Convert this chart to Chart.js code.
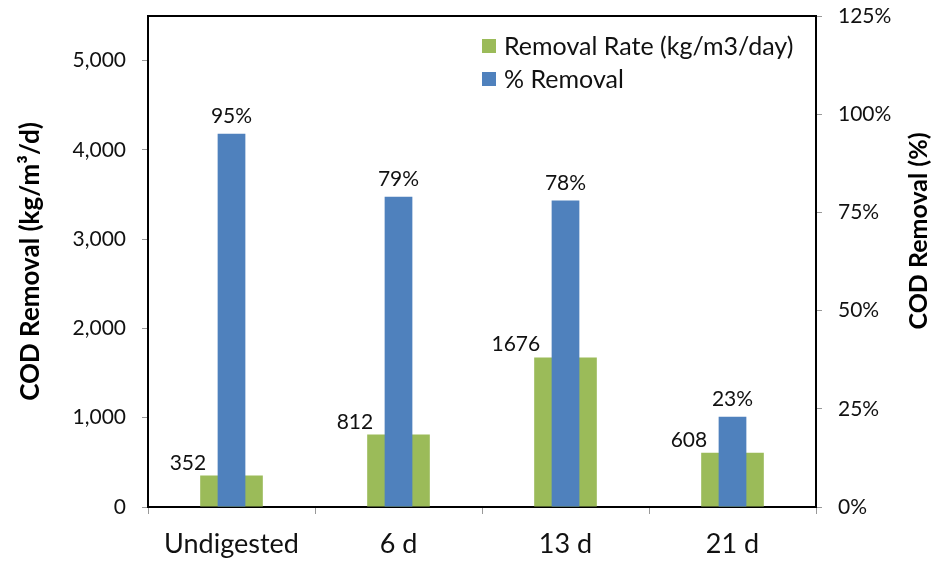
<!DOCTYPE html>
<html>
<head>
<meta charset="utf-8">
<script src="https://cdn.jsdelivr.net/npm/chart.js@4/dist/chart.umd.min.js"></script>
<style>
  html, body { margin: 0; padding: 0; background: #fff; }
</style>
</head>
<body>
<canvas id="codChart" width="935" height="561"></canvas>
<script>
// COD removal per digestion stage
const stages = ["Undigested", "6 d", "13 d", "21 d"];
const removalRate = [352, 812, 1676, 608];   // kg/m3/day
const pctRemoval = [95, 79, 78, 23];         // %
const rateTicks = [0, 1000, 2000, 3000, 4000, 5000];

const GREEN = "#9BBB59";
const BLUE = "#4F81BD";
const FONT = "Lato, 'DejaVu Sans', sans-serif";

// value labels above the bars
const barLabels = {
  id: "barLabels",
  afterDatasetsDraw(chart) {
    const ctx = chart.ctx;
    ctx.save();
    ctx.fillStyle = "#111";
    ctx.font = "21px " + FONT;
    ctx.textBaseline = "alphabetic";
    chart.getDatasetMeta(0).data.forEach((bar, i) => {
      const left = bar.x - bar.width / 2;
      ctx.textAlign = "right";
      ctx.fillText(String(removalRate[i]), left + 6, bar.y - 6);
    });
    chart.getDatasetMeta(1).data.forEach((bar, i) => {
      ctx.textAlign = "center";
      ctx.fillText(pctRemoval[i] + "%", bar.x, bar.y - 11);
    });
    ctx.restore();
  }
};

// frame, legend and right-hand title
const decorations = {
  id: "decorations",
  afterDraw(chart) {
    const ctx = chart.ctx;
    const a = chart.chartArea;
    ctx.save();
    ctx.strokeStyle = "#000";
    ctx.lineWidth = 2;
    ctx.beginPath();
    ctx.moveTo(a.left - 1, a.top);
    ctx.lineTo(a.right, a.top);
    ctx.stroke();

    const items = [
      { text: chart.data.datasets[0].label, color: GREEN },
      { text: chart.data.datasets[1].label, color: BLUE }
    ];
    ctx.font = "25px " + FONT;
    ctx.textAlign = "left";
    ctx.textBaseline = "middle";
    items.forEach((it, k) => {
      const cy = 46 + k * 33;
      ctx.fillStyle = it.color;
      ctx.fillRect(482, cy - 7, 14, 14);
      ctx.fillStyle = "#111";
      ctx.fillText(it.text, 504, cy + 1);
    });

    ctx.translate(919, 231);
    ctx.rotate(-Math.PI / 2);
    ctx.font = "bold 25px " + FONT;
    ctx.textAlign = "center";
    ctx.textBaseline = "middle";
    ctx.fillStyle = "#000";
    ctx.fillText("COD Removal (%)", 0, 0);
    ctx.restore();
  }
};

// fixed side widths; no extra room above/below for end tick labels
function fitSide(width) {
  return (s) => {
    s.width = width;
    s.paddingTop = 0;
    s.paddingBottom = 0;
  };
}

const config = {
  type: "bar",
  data: {
    labels: stages,
    datasets: [
      {
        label: "Removal Rate (kg/m3/day)",
        data: removalRate,
        backgroundColor: GREEN,
        yAxisID: "y",
        grouped: false,
        barPercentage: 0.375,
        categoryPercentage: 1,
        order: 2
      },
      {
        label: "% Removal",
        data: pctRemoval,
        backgroundColor: BLUE,
        yAxisID: "y2",
        grouped: false,
        barPercentage: 0.166,
        categoryPercentage: 1,
        order: 1
      }
    ]
  },
  options: {
    responsive: false,
    animation: false,
    layout: { padding: { top: 16, right: 0, bottom: 0, left: 0 } },
    plugins: {
      legend: { display: false },
      tooltip: { enabled: false }
    },
    scales: {
      x: {
        afterFit: (s) => { s.height = 54; },
        grid: { drawOnChartArea: false, offset: true, tickLength: 7, color: "#999" },
        border: { color: "#000", width: 2 },
        ticks: { color: "#111", font: { family: FONT, size: 27 }, padding: 14 }
      },
      y: {
        position: "left",
        min: 0,
        max: 5500,
        afterFit: fitSide(148),
        afterBuildTicks: (s) => { s.ticks = rateTicks.map((v) => ({ value: v })); },
        grid: { drawOnChartArea: false, tickLength: 6, color: "#999" },
        border: { color: "#000", width: 2 },
        ticks: {
          color: "#111",
          font: { family: FONT, size: 21 },
          padding: 16,
          callback: (v) => v.toLocaleString("en-US")
        },
        title: {
          display: true,
          text: "COD Removal (kg/m³/d)",
          color: "#000",
          font: { family: FONT, size: 26, weight: "bold" },
          padding: { top: 15, bottom: 0 }
        }
      },
      y2: {
        position: "right",
        min: 0,
        max: 125,
        afterFit: fitSide(119),
        grid: { drawOnChartArea: false, tickLength: 6, color: "#999" },
        border: { color: "#000", width: 2 },
        ticks: {
          stepSize: 25,
          color: "#111",
          font: { family: FONT, size: 21 },
          padding: 16,
          callback: (v) => v + "%"
        }
      }
    }
  },
  plugins: [barLabels, decorations]
};

var codChart = new Chart(document.getElementById("codChart"), config);
</script>
</body>
</html>
